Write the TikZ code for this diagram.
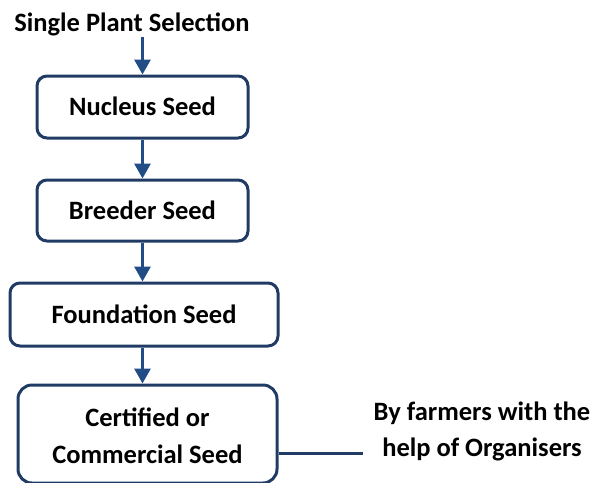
\documentclass[tikz,border=0pt]{standalone}
\usepackage{fontspec}
\setmainfont{Carlito}
\usetikzlibrary{arrows.meta}
\definecolor{boxblue}{RGB}{32,60,100}
\definecolor{arrowblue}{RGB}{34,76,134}

\begin{document}
\begin{tikzpicture}[x=1pt,y=-1pt,-{Triangle[length=15pt,width=16pt]},draw=arrowblue,line width=3pt]
    \tikzstyle{every node}=[font=\fontsize{26.5}{37}\selectfont\bfseries,inner sep=0pt]
    \tikzstyle{seed}=[draw=boxblue,rounded corners=10pt,text height=17pt,text depth=0pt,align=center];
    \tikzstyle{note}=[text height=56pt,text depth=0pt,align=center];
    \useasboundingbox (0,0) rectangle (593,482);
    % stages of seed production
      \node[anchor=base] (SPS) at (132,31) {Single Plant Selection};
      \node[seed, minimum width=211pt, minimum height=62pt] (N) at (142.5,107) {Nucleus Seed};
      \node[seed, minimum width=211pt, minimum height=61pt] (B) at (142.5,210.5) {Breeder Seed};
      \node[seed, minimum width=268pt, minimum height=63pt] (F) at (144,314.5) {Foundation Seed};
      \node[seed, minimum width=259pt, minimum height=98pt, text height=58pt, rounded corners=14pt] (C) at (147.5,434) {Certified or\\Commercial Seed};
      \node[note, font=\fontsize{26.5}{35.5}\selectfont\bfseries] (O) at (482,428) {By farmers with the\\help of Organisers};
      \coordinate (L) at (363,453);
    % arrows
      \draw (SPS.south -| N.north) -- (N.north);
      \draw (N.south) -- (B.north);
      \draw (B.south) -- (F.north -| B);
      \draw (F.south -| N) -- (C.north -| N);
      \draw[-, draw=boxblue] (C.east |- L) -- (L);
\end{tikzpicture}
\end{document}
